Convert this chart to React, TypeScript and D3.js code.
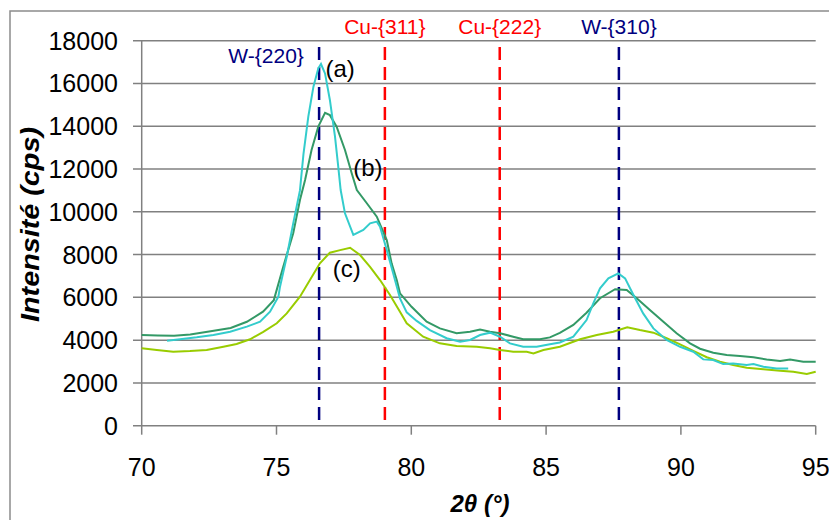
import React from "react";
import * as d3 from "d3";

const xA = [70.94, 71.42, 72.04, 72.66, 73.28, 73.9, 74.39, 74.76, 75.07, 75.13, 75.38, 75.62, 75.87, 76.0, 76.18, 76.37, 76.55, 76.65, 76.8, 76.98, 77.17, 77.29, 77.38, 77.54, 77.85, 78.22, 78.47, 78.72, 78.84, 79.09, 79.33, 79.58, 79.83, 80.2, 80.69, 81.31, 81.81, 82.18, 82.55, 82.92, 83.29, 83.66, 84.15, 84.65, 85.14, 85.51, 86.01, 86.5, 86.75, 87.0, 87.31, 87.68, 87.93, 88.24, 88.6, 88.98, 89.47, 89.97, 90.46, 90.83, 91.2, 91.57, 91.94, 92.44, 92.69, 93.06, 93.55, 93.98];
const yA = [3970, 4040, 4130, 4240, 4390, 4630, 4860, 5330, 6030, 6500, 7900, 9460, 11000, 12700, 14450, 15850, 16710, 16910, 16470, 15230, 13510, 12110, 11020, 9930, 8920, 9150, 9460, 9540, 9300, 8210, 7120, 5950, 5300, 4900, 4470, 4090, 3930, 4010, 4240, 4350, 4160, 3850, 3690, 3690, 3810, 3890, 4160, 4940, 5720, 6420, 6890, 7120, 6890, 6110, 5250, 4550, 4010, 3690, 3460, 3100, 3070, 2880, 2910, 2840, 2880, 2760, 2680, 2680];

const xB = [70.0, 70.6, 71.2, 71.8, 72.5, 73.3, 73.9, 74.5, 74.9, 75.25, 75.62, 75.87, 76.06, 76.3, 76.55, 76.8, 76.98, 77.23, 77.54, 77.79, 77.98, 78.35, 78.72, 79.09, 79.27, 79.46, 79.58, 80.01, 80.57, 81.06, 81.68, 82.18, 82.55, 82.92, 83.29, 83.78, 84.15, 84.77, 85.14, 85.51, 86.01, 86.5, 87.0, 87.56, 87.99, 88.36, 88.85, 89.35, 89.84, 90.34, 90.71, 91.2, 91.7, 92.19, 92.69, 93.18, 93.68, 94.05, 94.54, 95.0];
const yB = [4240, 4220, 4200, 4260, 4400, 4570, 4860, 5330, 5870, 7430, 9000, 10550, 11490, 12890, 13980, 14630, 14520, 13980, 12890, 11800, 11020, 10400, 9770, 8680, 7590, 6810, 6190, 5560, 4860, 4550, 4320, 4390, 4500, 4390, 4320, 4160, 4040, 4040, 4130, 4340, 4710, 5280, 5960, 6380, 6340, 5960, 5410, 4860, 4320, 3850, 3600, 3410, 3310, 3260, 3200, 3100, 3020, 3100, 2990, 2990];

const xC = [70.0, 70.56, 71.17, 71.79, 72.41, 73.03, 73.52, 74.02, 74.51, 75.01, 75.38, 75.87, 76.24, 76.61, 76.98, 77.36, 77.73, 78.1, 78.47, 78.84, 79.21, 79.58, 79.83, 80.44, 81.06, 81.68, 82.43, 82.92, 83.29, 83.78, 84.28, 84.53, 84.9, 85.51, 86.26, 86.88, 87.49, 88.01, 88.48, 88.98, 89.47, 89.97, 90.46, 90.96, 91.45, 91.94, 92.44, 93.06, 93.68, 94.17, 94.67, 95.0];
const yC = [3620, 3540, 3460, 3490, 3540, 3690, 3820, 4040, 4390, 4790, 5250, 6030, 6810, 7590, 8090, 8210, 8320, 7980, 7430, 6810, 6110, 5330, 4790, 4160, 3850, 3730, 3690, 3620, 3540, 3460, 3460, 3380, 3540, 3690, 4040, 4240, 4390, 4600, 4470, 4350, 4090, 3800, 3500, 3200, 2990, 2840, 2710, 2640, 2570, 2520, 2420, 2520];

const xTicks = [70, 75, 80, 85, 90, 95];
const yTicks = [0, 2000, 4000, 6000, 8000, 10000, 12000, 14000, 16000, 18000];

const refNames = ["W-{220}", "Cu-{311}", "Cu-{222}", "W-{310}"];
const refPos = [76.58, 79.02, 83.28, 87.7];
const refKind = ["W", "Cu", "Cu", "W"];

const seriesLabels = ["(a)", "(b)", "(c)"];
const seriesLabelPos = [[77.36, 16300], [78.39, 11670], [77.61, 6950]];

export default function App() {
  const W = 829, H = 520;
  const x = d3.scaleLinear().domain([70, 95]).range([141.7, 815.7]);
  const y = d3.scaleLinear().domain([0, 18000]).range([425.7, 40.7]);
  const line = d3.line<[number, number]>().x(d => x(d[0])).y(d => y(d[1]));
  const mk = (xs: number[], ys: number[]) => xs.map((v, i) => [v, ys[i]] as [number, number]);
  const font = "'Liberation Sans', Arial, sans-serif";
  const refColor = (k: string) => (k === "W" ? "#000080" : "#ff0000");
  const refLabelY = [63, 34, 34, 34];

  return (
    <svg width={W} height={H} style={{ position: "absolute", left: 0, top: 0, background: "#fff" }} fontFamily={font}>
      <rect x={10} y={11} width={W + 10} height={H + 10} fill="#fff" stroke="#8c8c8c" strokeWidth={1.5} />
      {yTicks.map(t => (
        <g key={t}>
          <line x1={133} x2={x(95)} y1={y(t)} y2={y(t)} stroke="#808080" strokeWidth={1.5} />
          <text x={118} y={y(t)} dy="0.36em" textAnchor="end" fontSize={25} fill="#000">{t}</text>
        </g>
      ))}
      <line x1={x(70)} x2={x(70)} y1={y(18000)} y2={y(0)} stroke="#808080" strokeWidth={1.5} />
      {xTicks.map(t => (
        <g key={t}>
          <line x1={x(t)} x2={x(t)} y1={y(0)} y2={y(0) + 9} stroke="#808080" strokeWidth={1.5} />
          <text x={x(t)} y={476} textAnchor="middle" fontSize={25} fill="#000">{t}</text>
        </g>
      ))}
      {refPos.map((p, i) => (
        <g key={refNames[i]}>
          <line x1={x(p)} x2={x(p)} y1={47} y2={y(0)} stroke={refColor(refKind[i])} strokeWidth={2.5} strokeDasharray="13 7" />
          <text x={x(p) - (i === 0 ? 53 : 0)} y={refLabelY[i]} textAnchor="middle" fontSize={21} fill={refColor(refKind[i])}>{refNames[i]}</text>
        </g>
      ))}
      <path d={line(mk(xC, yC)) || ""} fill="none" stroke="#99cc00" strokeWidth={2} />
      <path d={line(mk(xB, yB)) || ""} fill="none" stroke="#339966" strokeWidth={2} />
      <path d={line(mk(xA, yA)) || ""} fill="none" stroke="#33cccc" strokeWidth={2} />
      {seriesLabels.map((s, i) => (
        <text key={s} x={x(seriesLabelPos[i][0])} y={y(seriesLabelPos[i][1])} textAnchor="middle" fontSize={24} fill="#000">{s}</text>
      ))}
      <text x={480} y={512} textAnchor="middle" fontSize={24} fontWeight="bold" fontStyle="italic" fill="#000">2θ (°)</text>
      <text transform="translate(39,224.5) rotate(-90)" textAnchor="middle" fontSize={25} fontWeight="bold" fontStyle="italic" fill="#000" textLength={195} lengthAdjust="spacingAndGlyphs">Intensité (cps)</text>
    </svg>
  );
}
